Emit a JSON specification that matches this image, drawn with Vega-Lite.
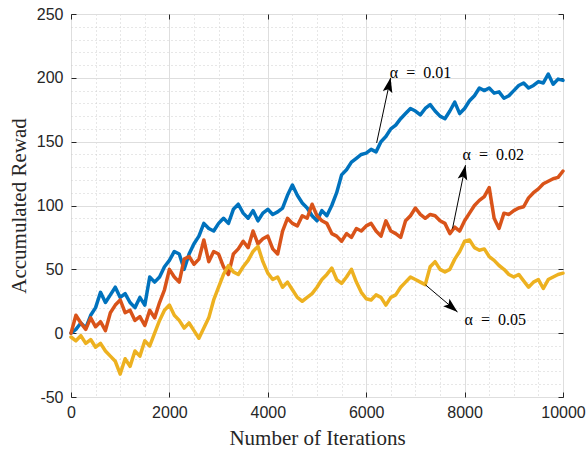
{
  "$schema": "https://vega.github.io/schema/vega-lite/v6.json",
  "width": 492,
  "height": 383,
  "autosize": "none",
  "padding": {"left": 71, "top": 14, "right": 25, "bottom": 56},
  "background": "white",
  "config": {"view": {"stroke": "#262626", "strokeWidth": 1}},
  "datasets": {
    "reward": [
      {"alpha":"0.01","iter":0,"reward":0},{"alpha":"0.01","iter":100,"reward":3},{"alpha":"0.01","iter":200,"reward":8},{"alpha":"0.01","iter":300,"reward":4},{"alpha":"0.01","iter":400,"reward":14},
      {"alpha":"0.01","iter":500,"reward":20},{"alpha":"0.01","iter":600,"reward":32},{"alpha":"0.01","iter":700,"reward":24},{"alpha":"0.01","iter":800,"reward":30},{"alpha":"0.01","iter":900,"reward":36},
      {"alpha":"0.01","iter":1000,"reward":28},{"alpha":"0.01","iter":1100,"reward":31},{"alpha":"0.01","iter":1200,"reward":24},{"alpha":"0.01","iter":1300,"reward":20},{"alpha":"0.01","iter":1400,"reward":28},
      {"alpha":"0.01","iter":1500,"reward":22},{"alpha":"0.01","iter":1600,"reward":44},{"alpha":"0.01","iter":1700,"reward":40},{"alpha":"0.01","iter":1800,"reward":44},{"alpha":"0.01","iter":1900,"reward":52},
      {"alpha":"0.01","iter":2000,"reward":57},{"alpha":"0.01","iter":2100,"reward":64},{"alpha":"0.01","iter":2200,"reward":62},{"alpha":"0.01","iter":2300,"reward":50},{"alpha":"0.01","iter":2400,"reward":62},
      {"alpha":"0.01","iter":2500,"reward":70},{"alpha":"0.01","iter":2600,"reward":76},{"alpha":"0.01","iter":2700,"reward":86},{"alpha":"0.01","iter":2800,"reward":82},{"alpha":"0.01","iter":2900,"reward":80},
      {"alpha":"0.01","iter":3000,"reward":86},{"alpha":"0.01","iter":3100,"reward":90},{"alpha":"0.01","iter":3200,"reward":86},{"alpha":"0.01","iter":3300,"reward":97},{"alpha":"0.01","iter":3400,"reward":101},
      {"alpha":"0.01","iter":3500,"reward":94},{"alpha":"0.01","iter":3600,"reward":90},{"alpha":"0.01","iter":3700,"reward":96},{"alpha":"0.01","iter":3800,"reward":88},{"alpha":"0.01","iter":3900,"reward":94},
      {"alpha":"0.01","iter":4000,"reward":97},{"alpha":"0.01","iter":4100,"reward":93},{"alpha":"0.01","iter":4200,"reward":95},{"alpha":"0.01","iter":4300,"reward":98},{"alpha":"0.01","iter":4400,"reward":108},
      {"alpha":"0.01","iter":4500,"reward":116},{"alpha":"0.01","iter":4600,"reward":108},{"alpha":"0.01","iter":4700,"reward":102},{"alpha":"0.01","iter":4800,"reward":98},{"alpha":"0.01","iter":4900,"reward":92},
      {"alpha":"0.01","iter":5000,"reward":88},{"alpha":"0.01","iter":5100,"reward":96},{"alpha":"0.01","iter":5200,"reward":92},{"alpha":"0.01","iter":5300,"reward":100},{"alpha":"0.01","iter":5400,"reward":110},
      {"alpha":"0.01","iter":5500,"reward":124},{"alpha":"0.01","iter":5600,"reward":128},{"alpha":"0.01","iter":5700,"reward":134},{"alpha":"0.01","iter":5800,"reward":137},{"alpha":"0.01","iter":5900,"reward":140},
      {"alpha":"0.01","iter":6000,"reward":141},{"alpha":"0.01","iter":6100,"reward":144},{"alpha":"0.01","iter":6200,"reward":142},{"alpha":"0.01","iter":6300,"reward":150},{"alpha":"0.01","iter":6400,"reward":154},
      {"alpha":"0.01","iter":6500,"reward":160},{"alpha":"0.01","iter":6600,"reward":163},{"alpha":"0.01","iter":6700,"reward":168},{"alpha":"0.01","iter":6800,"reward":172},{"alpha":"0.01","iter":6900,"reward":176},
      {"alpha":"0.01","iter":7000,"reward":174},{"alpha":"0.01","iter":7100,"reward":171},{"alpha":"0.01","iter":7200,"reward":176},{"alpha":"0.01","iter":7300,"reward":179},{"alpha":"0.01","iter":7400,"reward":174},
      {"alpha":"0.01","iter":7500,"reward":170},{"alpha":"0.01","iter":7600,"reward":168},{"alpha":"0.01","iter":7700,"reward":174},{"alpha":"0.01","iter":7800,"reward":181},{"alpha":"0.01","iter":7900,"reward":172},
      {"alpha":"0.01","iter":8000,"reward":176},{"alpha":"0.01","iter":8100,"reward":182},{"alpha":"0.01","iter":8200,"reward":186},{"alpha":"0.01","iter":8300,"reward":192},{"alpha":"0.01","iter":8400,"reward":190},
      {"alpha":"0.01","iter":8500,"reward":192},{"alpha":"0.01","iter":8600,"reward":188},{"alpha":"0.01","iter":8700,"reward":189},{"alpha":"0.01","iter":8800,"reward":184},{"alpha":"0.01","iter":8900,"reward":186},
      {"alpha":"0.01","iter":9000,"reward":190},{"alpha":"0.01","iter":9100,"reward":194},{"alpha":"0.01","iter":9200,"reward":196},{"alpha":"0.01","iter":9300,"reward":192},{"alpha":"0.01","iter":9400,"reward":194},
      {"alpha":"0.01","iter":9500,"reward":197},{"alpha":"0.01","iter":9600,"reward":196},{"alpha":"0.01","iter":9700,"reward":203},{"alpha":"0.01","iter":9800,"reward":195},{"alpha":"0.01","iter":9900,"reward":199},
      {"alpha":"0.01","iter":10000,"reward":198},

      {"alpha":"0.02","iter":0,"reward":0},{"alpha":"0.02","iter":100,"reward":14},{"alpha":"0.02","iter":200,"reward":8},{"alpha":"0.02","iter":300,"reward":3},{"alpha":"0.02","iter":400,"reward":12},
      {"alpha":"0.02","iter":500,"reward":5},{"alpha":"0.02","iter":600,"reward":9},{"alpha":"0.02","iter":700,"reward":2},{"alpha":"0.02","iter":800,"reward":16},{"alpha":"0.02","iter":900,"reward":22},
      {"alpha":"0.02","iter":1000,"reward":26},{"alpha":"0.02","iter":1100,"reward":16},{"alpha":"0.02","iter":1200,"reward":18},{"alpha":"0.02","iter":1300,"reward":10},{"alpha":"0.02","iter":1400,"reward":13},
      {"alpha":"0.02","iter":1500,"reward":6},{"alpha":"0.02","iter":1600,"reward":18},{"alpha":"0.02","iter":1700,"reward":12},{"alpha":"0.02","iter":1800,"reward":24},{"alpha":"0.02","iter":1900,"reward":34},
      {"alpha":"0.02","iter":2000,"reward":50},{"alpha":"0.02","iter":2100,"reward":44},{"alpha":"0.02","iter":2200,"reward":40},{"alpha":"0.02","iter":2300,"reward":58},{"alpha":"0.02","iter":2400,"reward":60},
      {"alpha":"0.02","iter":2500,"reward":54},{"alpha":"0.02","iter":2600,"reward":58},{"alpha":"0.02","iter":2700,"reward":73},{"alpha":"0.02","iter":2800,"reward":56},{"alpha":"0.02","iter":2900,"reward":64},
      {"alpha":"0.02","iter":3000,"reward":62},{"alpha":"0.02","iter":3100,"reward":52},{"alpha":"0.02","iter":3200,"reward":46},{"alpha":"0.02","iter":3300,"reward":62},{"alpha":"0.02","iter":3400,"reward":66},
      {"alpha":"0.02","iter":3500,"reward":72},{"alpha":"0.02","iter":3600,"reward":67},{"alpha":"0.02","iter":3700,"reward":80},{"alpha":"0.02","iter":3800,"reward":70},{"alpha":"0.02","iter":3900,"reward":74},
      {"alpha":"0.02","iter":4000,"reward":76},{"alpha":"0.02","iter":4100,"reward":66},{"alpha":"0.02","iter":4200,"reward":62},{"alpha":"0.02","iter":4300,"reward":80},{"alpha":"0.02","iter":4400,"reward":90},
      {"alpha":"0.02","iter":4500,"reward":86},{"alpha":"0.02","iter":4600,"reward":84},{"alpha":"0.02","iter":4700,"reward":92},{"alpha":"0.02","iter":4800,"reward":90},{"alpha":"0.02","iter":4900,"reward":101},
      {"alpha":"0.02","iter":5000,"reward":92},{"alpha":"0.02","iter":5100,"reward":88},{"alpha":"0.02","iter":5200,"reward":86},{"alpha":"0.02","iter":5300,"reward":78},{"alpha":"0.02","iter":5400,"reward":76},
      {"alpha":"0.02","iter":5500,"reward":72},{"alpha":"0.02","iter":5600,"reward":78},{"alpha":"0.02","iter":5700,"reward":75},{"alpha":"0.02","iter":5800,"reward":82},{"alpha":"0.02","iter":5900,"reward":80},
      {"alpha":"0.02","iter":6000,"reward":84},{"alpha":"0.02","iter":6100,"reward":86},{"alpha":"0.02","iter":6200,"reward":80},{"alpha":"0.02","iter":6300,"reward":76},{"alpha":"0.02","iter":6400,"reward":88},
      {"alpha":"0.02","iter":6500,"reward":80},{"alpha":"0.02","iter":6600,"reward":78},{"alpha":"0.02","iter":6700,"reward":75},{"alpha":"0.02","iter":6800,"reward":88},{"alpha":"0.02","iter":6900,"reward":92},
      {"alpha":"0.02","iter":7000,"reward":98},{"alpha":"0.02","iter":7100,"reward":93},{"alpha":"0.02","iter":7200,"reward":90},{"alpha":"0.02","iter":7300,"reward":93},{"alpha":"0.02","iter":7400,"reward":92},
      {"alpha":"0.02","iter":7500,"reward":88},{"alpha":"0.02","iter":7600,"reward":86},{"alpha":"0.02","iter":7700,"reward":78},{"alpha":"0.02","iter":7800,"reward":83},{"alpha":"0.02","iter":7900,"reward":80},
      {"alpha":"0.02","iter":8000,"reward":88},{"alpha":"0.02","iter":8100,"reward":94},{"alpha":"0.02","iter":8200,"reward":100},{"alpha":"0.02","iter":8300,"reward":104},{"alpha":"0.02","iter":8400,"reward":107},
      {"alpha":"0.02","iter":8500,"reward":114},{"alpha":"0.02","iter":8600,"reward":90},{"alpha":"0.02","iter":8700,"reward":82},{"alpha":"0.02","iter":8800,"reward":94},{"alpha":"0.02","iter":8900,"reward":93},
      {"alpha":"0.02","iter":9000,"reward":96},{"alpha":"0.02","iter":9100,"reward":98},{"alpha":"0.02","iter":9200,"reward":99},{"alpha":"0.02","iter":9300,"reward":106},{"alpha":"0.02","iter":9400,"reward":110},
      {"alpha":"0.02","iter":9500,"reward":113},{"alpha":"0.02","iter":9600,"reward":117},{"alpha":"0.02","iter":9700,"reward":119},{"alpha":"0.02","iter":9800,"reward":121},{"alpha":"0.02","iter":9900,"reward":122},
      {"alpha":"0.02","iter":10000,"reward":127},

      {"alpha":"0.05","iter":0,"reward":-3},{"alpha":"0.05","iter":100,"reward":-6},{"alpha":"0.05","iter":200,"reward":-2},{"alpha":"0.05","iter":300,"reward":-8},{"alpha":"0.05","iter":400,"reward":-5},
      {"alpha":"0.05","iter":500,"reward":-11},{"alpha":"0.05","iter":600,"reward":-8},{"alpha":"0.05","iter":700,"reward":-14},{"alpha":"0.05","iter":800,"reward":-18},{"alpha":"0.05","iter":900,"reward":-22},
      {"alpha":"0.05","iter":1000,"reward":-32},{"alpha":"0.05","iter":1100,"reward":-20},{"alpha":"0.05","iter":1200,"reward":-26},{"alpha":"0.05","iter":1300,"reward":-14},{"alpha":"0.05","iter":1400,"reward":-18},
      {"alpha":"0.05","iter":1500,"reward":-6},{"alpha":"0.05","iter":1600,"reward":-10},{"alpha":"0.05","iter":1700,"reward":0},{"alpha":"0.05","iter":1800,"reward":10},{"alpha":"0.05","iter":1900,"reward":18},
      {"alpha":"0.05","iter":2000,"reward":22},{"alpha":"0.05","iter":2100,"reward":14},{"alpha":"0.05","iter":2200,"reward":10},{"alpha":"0.05","iter":2300,"reward":4},{"alpha":"0.05","iter":2400,"reward":8},
      {"alpha":"0.05","iter":2500,"reward":2},{"alpha":"0.05","iter":2600,"reward":-4},{"alpha":"0.05","iter":2700,"reward":4},{"alpha":"0.05","iter":2800,"reward":12},{"alpha":"0.05","iter":2900,"reward":26},
      {"alpha":"0.05","iter":3000,"reward":36},{"alpha":"0.05","iter":3100,"reward":46},{"alpha":"0.05","iter":3200,"reward":53},{"alpha":"0.05","iter":3300,"reward":48},{"alpha":"0.05","iter":3400,"reward":46},
      {"alpha":"0.05","iter":3500,"reward":52},{"alpha":"0.05","iter":3600,"reward":57},{"alpha":"0.05","iter":3700,"reward":64},{"alpha":"0.05","iter":3800,"reward":68},{"alpha":"0.05","iter":3900,"reward":56},
      {"alpha":"0.05","iter":4000,"reward":47},{"alpha":"0.05","iter":4100,"reward":42},{"alpha":"0.05","iter":4200,"reward":44},{"alpha":"0.05","iter":4300,"reward":36},{"alpha":"0.05","iter":4400,"reward":40},
      {"alpha":"0.05","iter":4500,"reward":34},{"alpha":"0.05","iter":4600,"reward":28},{"alpha":"0.05","iter":4700,"reward":25},{"alpha":"0.05","iter":4800,"reward":28},{"alpha":"0.05","iter":4900,"reward":31},
      {"alpha":"0.05","iter":5000,"reward":36},{"alpha":"0.05","iter":5100,"reward":42},{"alpha":"0.05","iter":5200,"reward":46},{"alpha":"0.05","iter":5300,"reward":51},{"alpha":"0.05","iter":5400,"reward":42},
      {"alpha":"0.05","iter":5500,"reward":39},{"alpha":"0.05","iter":5600,"reward":44},{"alpha":"0.05","iter":5700,"reward":50},{"alpha":"0.05","iter":5800,"reward":40},{"alpha":"0.05","iter":5900,"reward":32},
      {"alpha":"0.05","iter":6000,"reward":27},{"alpha":"0.05","iter":6100,"reward":26},{"alpha":"0.05","iter":6200,"reward":30},{"alpha":"0.05","iter":6300,"reward":28},{"alpha":"0.05","iter":6400,"reward":22},
      {"alpha":"0.05","iter":6500,"reward":28},{"alpha":"0.05","iter":6600,"reward":30},{"alpha":"0.05","iter":6700,"reward":36},{"alpha":"0.05","iter":6800,"reward":40},{"alpha":"0.05","iter":6900,"reward":44},
      {"alpha":"0.05","iter":7000,"reward":42},{"alpha":"0.05","iter":7100,"reward":40},{"alpha":"0.05","iter":7200,"reward":38},{"alpha":"0.05","iter":7300,"reward":52},{"alpha":"0.05","iter":7400,"reward":56},
      {"alpha":"0.05","iter":7500,"reward":50},{"alpha":"0.05","iter":7600,"reward":48},{"alpha":"0.05","iter":7700,"reward":50},{"alpha":"0.05","iter":7800,"reward":58},{"alpha":"0.05","iter":7900,"reward":64},
      {"alpha":"0.05","iter":8000,"reward":72},{"alpha":"0.05","iter":8100,"reward":73},{"alpha":"0.05","iter":8200,"reward":67},{"alpha":"0.05","iter":8300,"reward":65},{"alpha":"0.05","iter":8400,"reward":66},
      {"alpha":"0.05","iter":8500,"reward":60},{"alpha":"0.05","iter":8600,"reward":57},{"alpha":"0.05","iter":8700,"reward":53},{"alpha":"0.05","iter":8800,"reward":50},{"alpha":"0.05","iter":8900,"reward":46},
      {"alpha":"0.05","iter":9000,"reward":44},{"alpha":"0.05","iter":9100,"reward":46},{"alpha":"0.05","iter":9200,"reward":41},{"alpha":"0.05","iter":9300,"reward":36},{"alpha":"0.05","iter":9400,"reward":40},
      {"alpha":"0.05","iter":9500,"reward":42},{"alpha":"0.05","iter":9600,"reward":35},{"alpha":"0.05","iter":9700,"reward":42},{"alpha":"0.05","iter":9800,"reward":44},{"alpha":"0.05","iter":9900,"reward":46},
      {"alpha":"0.05","iter":10000,"reward":47}
    ],
    "notes": [
      {"alpha":"0.01","label":"α\u2002=\u20020.01","tx":6480,"ty":204,"x0":6212,"y0":149,"x1":6496,"y1":200},
      {"alpha":"0.02","label":"α\u2002=\u20020.02","tx":7958,"ty":139.5,"x0":7755,"y0":82,"x1":8018,"y1":131.6},
      {"alpha":"0.05","label":"α\u2002=\u20020.05","tx":8000,"ty":10.3,"x0":7206,"y0":37.8,"x1":7856,"y1":16.6}
    ]
  },
  "resolve": {"axis": {"x": "independent", "y": "independent"}},
  "layer": [
    {
      "data": {"name": "reward"},
      "mark": {"type": "line", "strokeWidth": 3.5, "strokeJoin": "round", "strokeCap": "round"},
      "encoding": {
        "x": {
          "field": "iter", "type": "quantitative",
          "scale": {"domain": [0, 10000], "nice": false},
          "axis": {
            "orient": "bottom",
            "values": [0,500,1000,1500,2000,2500,3000,3500,4000,4500,5000,5500,6000,6500,7000,7500,8000,8500,9000,9500,10000],
            "labelExpr": "datum.value % 2000 === 0 ? '' + datum.value : ''",
            "labelFont": "Liberation Sans", "labelFontSize": 16, "labelColor": "#262626",
            "labelPadding": 12, "labelOverlap": false, "labelFlush": false,
            "tickSize": -5, "tickColor": "#262626",
            "tickOpacity": {"condition": {"test": "datum.value % 2000 === 0", "value": 1}, "value": 0},
            "domain": false,
            "grid": true,
            "gridColor": {"condition": {"test": "datum.value % 2000 === 0", "value": "#dedede"}, "value": "#cfcfcf"},
            "gridDash": {"condition": {"test": "datum.value % 2000 === 0", "value": []}, "value": [1, 3]},
            "title": "Number of Iterations",
            "titleFont": "Liberation Serif", "titleFontSize": 21, "titleFontWeight": "normal",
            "titleColor": "#262626", "titlePadding": 7
          }
        },
        "y": {
          "field": "reward", "type": "quantitative",
          "scale": {"domain": [-50, 250], "nice": false, "zero": false},
          "axis": {
            "orient": "left",
            "values": [-50,-40,-30,-20,-10,0,10,20,30,40,50,60,70,80,90,100,110,120,130,140,150,160,170,180,190,200,210,220,230,240,250],
            "labelExpr": "datum.value % 50 === 0 ? '' + datum.value : ''",
            "labelFont": "Liberation Sans", "labelFontSize": 16, "labelColor": "#262626",
            "labelPadding": 13, "labelOverlap": false, "labelFlush": false,
            "tickSize": -5, "tickColor": "#262626",
            "tickOpacity": {"condition": {"test": "datum.value % 50 === 0", "value": 1}, "value": 0},
            "domain": false,
            "grid": true,
            "gridColor": {"condition": {"test": "datum.value % 50 === 0", "value": "#dedede"}, "value": "#cfcfcf"},
            "gridDash": {"condition": {"test": "datum.value % 50 === 0", "value": []}, "value": [1, 3]},
            "title": "Accumulated Rewad",
            "titleFont": "Liberation Serif", "titleFontSize": 21, "titleFontWeight": "normal",
            "titleColor": "#262626", "titlePadding": 7
          }
        },
        "color": {
          "field": "alpha", "type": "nominal",
          "scale": {"domain": ["0.01", "0.02", "0.05"], "range": ["#0072BD", "#D95319", "#EDB120"]},
          "legend": null
        }
      }
    },
    {
      "data": {"name": "notes"},
      "mark": {"type": "rule", "color": "black", "strokeWidth": 1},
      "encoding": {
        "x": {
          "field": "x0", "type": "quantitative",
          "axis": {"orient": "top", "values": [0,2000,4000,6000,8000,10000], "labels": false, "domain": false, "grid": false, "tickSize": -5, "tickColor": "#262626", "title": null}
        },
        "y": {
          "field": "y0", "type": "quantitative",
          "axis": {"orient": "right", "values": [-50,0,50,100,150,200,250], "labels": false, "domain": false, "grid": false, "tickSize": -5, "tickColor": "#262626", "title": null}
        },
        "x2": {"field": "x1"},
        "y2": {"field": "y1"}
      }
    },
    {
      "data": {"name": "notes"},
      "mark": {"type": "point", "shape": "M0,0L0.5,1.5L0,1.2L-0.5,1.5Z", "filled": true, "color": "black", "opacity": 1, "size": 380},
      "encoding": {
        "x": {"field": "x1", "type": "quantitative", "axis": null},
        "y": {"field": "y1", "type": "quantitative", "axis": null},
        "angle": {"condition": {"test": "datum.alpha === '0.05'", "value": 130}, "value": 12}
      }
    },
    {
      "data": {"name": "notes"},
      "mark": {"type": "text", "align": "left", "baseline": "middle", "font": "Liberation Serif", "fontSize": 16, "color": "black"},
      "encoding": {
        "x": {"field": "tx", "type": "quantitative", "axis": null},
        "y": {"field": "ty", "type": "quantitative", "axis": null},
        "text": {"field": "label"}
      }
    }
  ]
}
